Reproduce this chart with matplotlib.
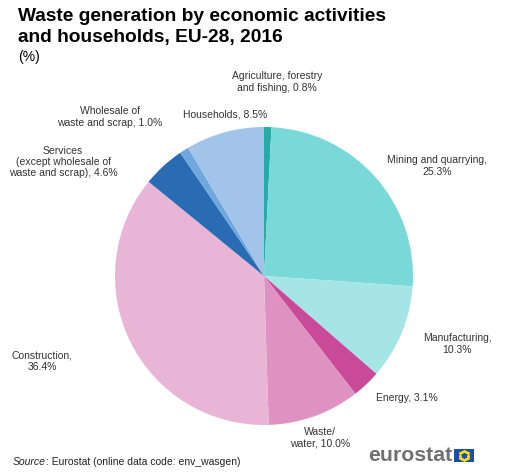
import matplotlib
matplotlib.use("Agg")
import matplotlib.pyplot as plt
import numpy as np
from matplotlib.patches import Rectangle

plt.rcParams['font.family'] = ['Liberation Sans', 'DejaVu Sans']

categories = ["Agriculture, forestry\nand fishing", "Mining and quarrying", "Manufacturing",
              "Energy", "Waste/\nwater", "Construction",
              "Services\n(except wholesale of\nwaste and scrap)", "Wholesale of\nwaste and scrap",
              "Households"]
values = [0.8, 25.3, 10.3, 3.1, 10.0, 36.4, 4.6, 1.0, 8.5]
colors = ["#27aba5", "#79d9d9", "#a6e5e5", "#c94a98", "#df92c2", "#e9b5d6",
          "#2a6cb3", "#70a7dd", "#a2c4e8"]
label_texts = ["Agriculture, forestry\nand fishing, 0.8%",
               "Mining and quarrying,\n25.3%",
               "Manufacturing,\n10.3%",
               "Energy, 3.1%",
               "Waste/\nwater, 10.0%",
               "Construction,\n36.4%",
               "Services\n(except wholesale of\nwaste and scrap), 4.6%",
               "Wholesale of\nwaste and scrap, 1.0%",
               "Households, 8.5%"]
# label centre positions in pixels (x, y from top)
label_pos = [(277, 82), (437, 166), (457, 344), (407, 398), (320, 438),
             (42, 361), (63, 162), (110, 117), (225, 114)]

W, H = 512, 473
fig = plt.figure(figsize=(W / 100, H / 100), dpi=100)
fig.patch.set_facecolor("white")

cx, cy, r = 264, 276, 149
ax = fig.add_axes([(cx - r) / W, (H - cy - r) / H, 2 * r / W, 2 * r / H])
ax.pie(values, colors=colors, startangle=90, counterclock=False,
       wedgeprops=dict(linewidth=0), radius=1.0)
ax.set_xlim(-1, 1)
ax.set_ylim(-1, 1)
ax.set_aspect("equal")
ax.axis("off")

for txt, (x, y) in zip(label_texts, label_pos):
    fig.text(x / W, 1 - y / H, txt, ha="center", va="center", fontsize=7.5,
             color="#333333", linespacing=1.15)

fig.text(18 / W, 1 - 27 / H, "Waste generation by economic activities\nand households, EU-28, 2016",
         ha="left", va="center", fontsize=13.8, fontweight="bold", color="#000000",
         linespacing=1.32)
fig.text(18 / W, 1 - 57 / H, "(%)", ha="left", va="center", fontsize=10, color="#000000")

src = fig.text(13 / W, 1 - 462 / H, "Source", ha="left", va="center", fontsize=7.5,
               style="italic", color="#222222")
fig.canvas.draw()
bb = src.get_window_extent()
fig.text(bb.x1 / W, 1 - 462 / H, ": Eurostat (online data code: env_wasgen)",
         ha="left", va="center", fontsize=7.5, color="#222222")

fig.text(368 / W, 1 - 455 / H, "eurostat", ha="left", va="center", fontsize=15.3,
         fontweight="bold", color="#707070")
fig.patches.append(Rectangle((454 / W, 1 - 462 / H), 20 / W, 13 / H,
                             transform=fig.transFigure, facecolor="#1f4ea8",
                             edgecolor="none"))
ang = np.linspace(0, 2 * np.pi, 13)[:-1]
fx = (464 + 4.3 * np.cos(ang)) / W
fy = 1 - (455.5 + 4.3 * np.sin(ang)) / H
fig.add_artist(plt.Line2D(fx, fy, linestyle="none", marker="*", markersize=1.6,
                          color="#ffdd00", transform=fig.transFigure))

fig.savefig("out.png", dpi=100, facecolor="white")
